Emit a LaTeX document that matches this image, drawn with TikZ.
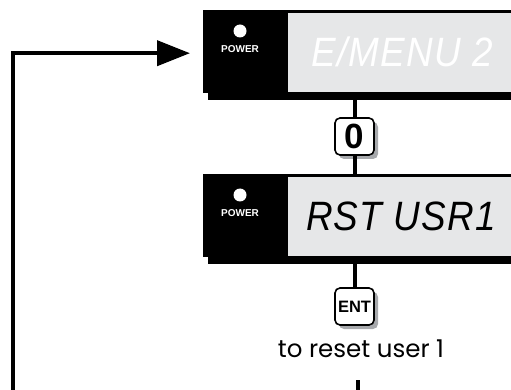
\documentclass[tikz,border=0pt]{standalone}
\usepackage{fontspec}
\setmainfont{Poppins}
\newfontfamily\keyfont{Liberation Sans}
\newfontfamily\segfont{Liberation Sans Italic}[FakeStretch=0.9, LetterSpace=3]
\usetikzlibrary{arrows.meta,positioning,shadows}
\definecolor{lcd}{HTML}{E6E7E8}
\definecolor{keyshadow}{HTML}{A7A9AC}

\begin{document}
\begin{tikzpicture}[x=1pt, y=-1pt, >={Triangle[length=33pt,width=25pt]},
  wire/.style={line width=4pt},
  panel/.style={fill=black, inner sep=0pt, minimum width=317pt, minimum height=83pt, anchor=north west},
  window/.style={fill=lcd, inner sep=0pt, minimum width=240pt, minimum height=79pt, anchor=north west},
  seg/.style={inner sep=0pt, font=\segfont\fontsize{41}{41}\selectfont},
  pwr/.style={inner sep=0pt, text=white, font=\keyfont\bfseries\fontsize{10}{10}\selectfont},
  key/.style={draw, line width=1.6pt, fill=white, rounded corners=5pt, minimum width=39pt, minimum height=37pt, inner sep=0pt,
    drop shadow={shadow xshift=4pt, shadow yshift=-4pt, fill=keyshadow, opacity=1}}]
\useasboundingbox (0,0) rectangle (511,390);
% the two displays
\foreach \y/\name in {10/menu,174/rst} {
  \node[panel] (\name) at (203,\y) {};
  \fill ([shift={(5,7)}]\name.north west) rectangle ([shift={(5,7)}]\name.south east);
  \node[panel] at (203,\y) {};
  \node[window] (\name win) at ([shift={(85,3)}]\name.north west) {};
  \fill[white] ([shift={(37,21)}]\name.north west) circle (6.5);
  \node[pwr] (\name pwr) at ([shift={(37,39)}]\name.north west) {POWER};
}
\node[seg, text=white] (menutxt) at (402,52) {E/MENU 2};
\node[seg] (rsttxt) at (401,216) {RST USR1};
% keys
\node[key, font=\keyfont\bfseries\fontsize{35}{35}\selectfont] (key0) at (354.5,136.5) {0};
\node[key, font=\keyfont\bfseries\fontsize{16.5}{17}\selectfont] (ent) at (354.5,306.5) {ENT};
\node[anchor=base, font=\fontsize{24.5}{26}\selectfont] (resetlbl) at (361,357) {to reset user 1};
\coordinate (out) at (358,380);
\coordinate (next) at (358,392);
\coordinate (loop) at (13,392);
% connectors
\draw[wire] (key0.north) -- (key0 |- menu.south);
\draw[wire] (key0.south) -- (key0 |- rst.north);
\draw[wire] (ent.north) -- (ent |- rst.south);
\draw[wire] (out) -- (next);
\draw[wire, ->, shorten >=13pt] (loop) |- ([yshift=-1.5pt]menu.west);
\end{tikzpicture}
\end{document}
